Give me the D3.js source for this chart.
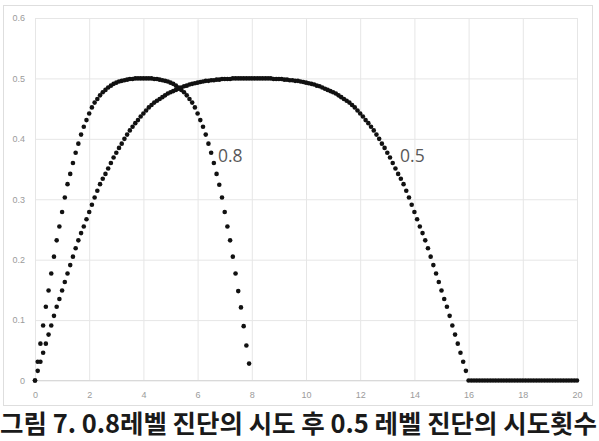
<!DOCTYPE html>
<html>
<head>
<meta charset="utf-8">
<script src="https://cdn.jsdelivr.net/npm/d3@7"></script>
<style>
  body { margin: 0; background: #fff; }
  svg { display: block; }
</style>
</head>
<body>
<div id="chart-area"></div>
<script>
// x runs in steps of 0.1 from 0
var xStep = 0.1;
var xTicks = [0, 2, 4, 6, 8, 10, 12, 14, 16, 18, 20];
var yTicks = [0, 0.1, 0.2, 0.3, 0.4, 0.5, 0.6];
var seriesNames = ["0.8", "0.5"];
var caption = "그림 7. 0.8레벨 진단의 시도 후 0.5 레벨 진단의 시도횟수";

// series "0.8" : x = 0 .. 7.9
var values08 = [
  0, 0.031, 0.061, 0.091, 0.122, 0.149, 0.177, 0.205, 0.232, 0.255,
  0.279, 0.303, 0.325, 0.342, 0.360, 0.377, 0.392, 0.407, 0.420, 0.431,
  0.442, 0.452, 0.460, 0.466, 0.472, 0.477, 0.481, 0.485, 0.488, 0.491,
  0.493, 0.495, 0.496, 0.497, 0.498, 0.499, 0.499, 0.500, 0.500, 0.500,
  0.500, 0.500, 0.500, 0.500, 0.499, 0.499, 0.498, 0.497, 0.496, 0.495,
  0.493, 0.491, 0.488, 0.485, 0.481, 0.477, 0.472, 0.466, 0.460, 0.452,
  0.442, 0.431, 0.420, 0.407, 0.392, 0.377, 0.360, 0.342, 0.324, 0.303,
  0.279, 0.255, 0.232, 0.205, 0.177, 0.148, 0.121, 0.090, 0.058, 0.028
];

// series "0.5" : x = 0 .. 20
var values05 = [
  0, 0.016, 0.031, 0.046, 0.061, 0.076, 0.091, 0.107, 0.122, 0.135,
  0.149, 0.163, 0.177, 0.191, 0.205, 0.219, 0.232, 0.244, 0.255, 0.267,
  0.279, 0.291, 0.303, 0.314, 0.325, 0.334, 0.342, 0.351, 0.360, 0.369,
  0.377, 0.385, 0.392, 0.400, 0.407, 0.414, 0.420, 0.426, 0.431, 0.437,
  0.442, 0.447, 0.452, 0.456, 0.460, 0.463, 0.466, 0.469, 0.472, 0.475,
  0.477, 0.479, 0.481, 0.483, 0.485, 0.487, 0.488, 0.490, 0.491, 0.492,
  0.493, 0.494, 0.495, 0.496, 0.496, 0.497, 0.497, 0.498, 0.498, 0.499,
  0.499, 0.499, 0.499, 0.500, 0.500, 0.500, 0.500, 0.500, 0.500, 0.500,
  0.500, 0.500, 0.500, 0.500, 0.500, 0.500, 0.500, 0.500, 0.499, 0.499,
  0.499, 0.499, 0.498, 0.498, 0.497, 0.497, 0.496, 0.496, 0.495, 0.494,
  0.493, 0.492, 0.491, 0.490, 0.488, 0.487, 0.485, 0.483, 0.481, 0.479,
  0.477, 0.475, 0.472, 0.469, 0.466, 0.463, 0.460, 0.456, 0.452, 0.447,
  0.442, 0.437, 0.431, 0.426, 0.420, 0.414, 0.407, 0.400, 0.392, 0.385,
  0.377, 0.369, 0.360, 0.351, 0.342, 0.334, 0.325, 0.314, 0.303, 0.291,
  0.279, 0.267, 0.255, 0.244, 0.232, 0.219, 0.205, 0.191, 0.177, 0.163,
  0.149, 0.135, 0.122, 0.107, 0.091, 0.076, 0.061, 0.046, 0.031, 0.016,
  0, 0, 0, 0, 0, 0, 0, 0, 0, 0,
  0, 0, 0, 0, 0, 0, 0, 0, 0, 0,
  0, 0, 0, 0, 0, 0, 0, 0, 0, 0,
  0, 0, 0, 0, 0, 0, 0, 0, 0, 0,
  0
];

// where the series labels sit (data coords)
var labelPos = [[6.75, 0.362], [13.47, 0.362]];

var W = 599, H = 441;
var margin = { top: 18, left: 35 };
var width = 542;
var height = 362.5;

var svg = d3.select("#chart-area").append("svg")
    .attr("width", W)
    .attr("height", H);

svg.append("rect")
  .attr("width", W).attr("height", H)
  .attr("fill", "#fff");

// outer chart border
svg.append("rect")
  .attr("x", 3.5).attr("y", 5.5)
  .attr("width", 589).attr("height", 400)
  .attr("fill", "none")
  .attr("stroke", "#dedede");

var g = svg.append("g")
  .attr("transform", "translate(" + margin.left + "," + margin.top + ")");

var x = d3.scaleLinear().domain([0, 20]).range([0, width]);
var y = d3.scaleLinear().domain([0, 0.6]).range([height, 0]);

// grid via axes
g.append("g")
  .attr("class", "x grid")
  .attr("transform", "translate(0," + height + ")")
  .call(d3.axisBottom(x).tickValues(xTicks).tickSize(-height).tickFormat(""));
g.append("g")
  .attr("class", "y grid")
  .call(d3.axisLeft(y).tickValues(yTicks).tickSize(-width).tickFormat(""));
g.selectAll(".grid .domain").remove();
g.selectAll(".grid line").attr("stroke", "#e6e6e6").attr("stroke-width", 1);

// tick labels
g.append("g")
  .attr("class", "x axis")
  .attr("transform", "translate(0," + height + ")")
  .call(d3.axisBottom(x).tickValues(xTicks).tickSize(0).tickPadding(11));
g.append("g")
  .attr("class", "y axis")
  .call(d3.axisLeft(y).tickValues(yTicks).tickSize(0).tickPadding(10)
    .tickFormat(function(d){ return d === 0 ? "0" : d3.format(".1f")(d); }));
g.selectAll(".axis .domain").remove();
g.selectAll(".axis text")
  .attr("fill", "#9b9b9b")
  .attr("font-family", "'Liberation Sans', Arial, sans-serif")
  .attr("font-size", "9px");

// axis line at 0
g.append("line")
  .attr("x1", 0).attr("x2", width)
  .attr("y1", y(0)).attr("y2", y(0))
  .attr("stroke", "#d9d9d9");

// dots
var series = [values08, values05];
series.forEach(function(vals){
  g.append("g").selectAll("circle")
    .data(vals)
    .enter().append("circle")
      .attr("cx", function(d, i){ return x(i * xStep); })
      .attr("cy", function(d){ return y(d); })
      .attr("r", 2.3)
      .attr("fill", "#111");
});

// series labels
g.selectAll(".series-label")
  .data(seriesNames)
  .enter().append("text")
    .attr("class", "series-label")
    .attr("x", function(d, i){ return x(labelPos[i][0]); })
    .attr("y", function(d, i){ return y(labelPos[i][1]); })
    .attr("font-family", "'Open Sans', sans-serif")
    .attr("font-size", "17.5px")
    .attr("fill", "#595959")
    .text(function(d){ return d; });

// caption at the bottom edge
svg.append("text")
  .attr("x", 0)
  .attr("y", 433)
  .attr("font-family", "'Noto Sans CJK KR', sans-serif")
  .attr("font-weight", "bold")
  .attr("font-size", "25.5px")
  .attr("textLength", 597)
  .attr("lengthAdjust", "spacing")
  .attr("fill", "#1a1a1a")
  .text(caption);
</script>
</body>
</html>
